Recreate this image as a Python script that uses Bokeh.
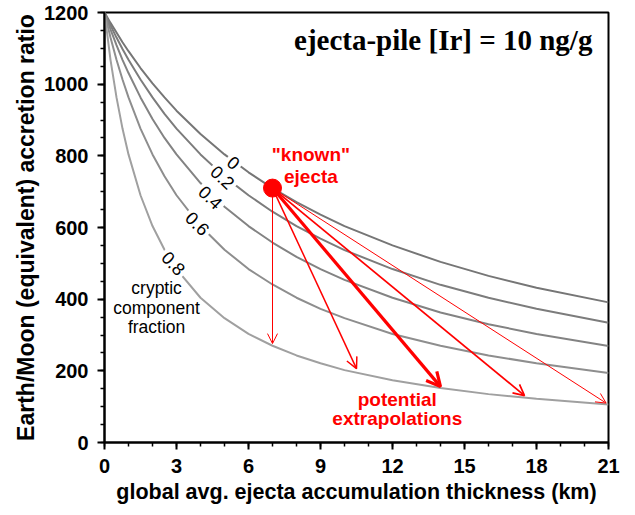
from bokeh.plotting import figure
from bokeh.models import Range1d, SingleIntervalTicker, Arrow, OpenHead
from bokeh.core.properties import value
from bokeh.embed import file_html
from bokeh.resources import INLINE

# ---- data ----
x_km = [0, 0.25, 0.5, 0.75, 1, 1.5, 2, 2.5, 3, 4, 5, 6, 7, 8, 9, 10, 12, 14, 16, 18, 21]
ratio_f00 = [1200, 1171, 1144, 1117, 1092, 1045, 1002, 963, 926, 861, 804, 754, 710, 671, 636, 604, 550, 504, 465, 432, 391]
ratio_f02 = [1200, 1164, 1130, 1098, 1068, 1013, 963, 917, 876, 804, 742, 690, 644, 604, 569, 537, 484, 440, 404, 373, 334]
ratio_f04 = [1200, 1153, 1109, 1068, 1031, 963, 903, 850, 804, 724, 658, 604, 558, 518, 484, 454, 404, 363, 330, 303, 269]
ratio_f06 = [1200, 1130, 1068, 1013, 963, 876, 804, 743, 690, 604, 538, 484, 441, 404, 373, 347, 303, 270, 243, 221, 194]
ratio_f08 = [1200, 1068, 963, 876, 804, 690, 604, 538, 484, 404, 347, 303, 270, 243, 221, 202, 174, 152, 135, 122, 106]

fraction_labels = ["0", "0.2", "0.4", "0.6", "0.8"]
fraction_label_x = [5.375, 4.92, 4.42, 3.875, 2.875]
fraction_label_y = [781, 740, 684, 611, 500]
fraction_label_angle = [-40, -43, -44, -45, -46]

known_x = [7.0]
known_y = [710]

extrap_end_x = [7.0, 10.5, 14.0, 17.5, 20.9]
extrap_end_y = [276, 206, 156, 131, 110]

x_ticks_interval = 3
y_ticks_interval = 200

known_text = ['"known"', "ejecta"]
known_text_x = [8.6, 8.6]
known_text_y = [803, 742]

extrap_text = ["potential", "extrapolations"]
extrap_text_x = [12.2, 12.2]
extrap_text_y = [120, 67]

cryptic_text = ["cryptic", "component", "fraction"]
cryptic_text_x = [2.17, 2.17, 2.17]
cryptic_text_y = [430, 374, 321]

title_text = ["ejecta-pile [Ir] = 10 ng/g"]
title_x = [20.33]
title_y = [1122]

# ---- styles ----
curve_colors = ["#767676", "#7c7c7c", "#838383", "#8e8e8e", "#a0a0a0"]
arrow_widths = [1.0, 1.5, 3.2, 1.7, 1.0]
head_sizes = [10, 11, 14, 11, 10]

SANS = value("Liberation Sans")

p = figure(width=627, height=507,
           x_range=Range1d(0, 21), y_range=Range1d(0, 1200),
           output_backend="svg", toolbar_location=None,
           min_border_left=104, min_border_right=19,
           min_border_top=12, min_border_bottom=65)

p.xgrid.visible = False
p.ygrid.visible = False
p.background_fill_color = "white"
p.outline_line_color = "black"
p.outline_line_width = 2

p.xaxis.ticker = SingleIntervalTicker(interval=x_ticks_interval, num_minor_ticks=3)
p.yaxis.ticker = SingleIntervalTicker(interval=y_ticks_interval, num_minor_ticks=4)

for ax in (p.xaxis[0], p.yaxis[0]):
    ax.axis_line_color = "black"
    ax.axis_line_width = 2
    ax.major_tick_line_color = "black"
    ax.major_tick_line_width = 2
    ax.minor_tick_line_color = "black"
    ax.minor_tick_line_width = 1.5
    ax.major_tick_in = 0
    ax.major_tick_out = 7
    ax.minor_tick_in = 0
    ax.minor_tick_out = 4
    ax.major_label_text_font = "Liberation Sans"
    ax.major_label_text_font_style = "bold"
    ax.major_label_text_font_size = "20px"
    ax.major_label_text_color = "black"
    ax.axis_label_text_font = "Liberation Sans"
    ax.axis_label_text_font_style = "bold"
    ax.axis_label_text_color = "black"

p.xaxis.axis_label = "global avg. ejecta accumulation thickness (km)"
p.yaxis.axis_label = "Earth/Moon (equivalent) accretion ratio"
p.xaxis.axis_label_text_font_size = "21.5px"
p.yaxis.axis_label_text_font_size = "23px"
p.xaxis.major_label_standoff = 9
p.xaxis.axis_label_standoff = 4
p.yaxis.major_label_standoff = 9
p.yaxis.axis_label_standoff = 2

series = [ratio_f00, ratio_f02, ratio_f04, ratio_f06, ratio_f08]
for ys, c in zip(series, curve_colors):
    p.line(x_km, ys, line_color=c, line_width=2)

# curve labels with white background gaps
p.text(x=fraction_label_x, y=fraction_label_y, text=fraction_labels,
       angle=fraction_label_angle, angle_units="deg",
       text_font=SANS, text_font_size="18px", text_color="black",
       text_align="center", text_baseline="middle",
       background_fill_color="white", padding=3)

# arrows
for ex, ey, w, hs in zip(extrap_end_x, extrap_end_y, arrow_widths, head_sizes):
    p.add_layout(Arrow(x_start=known_x[0], y_start=known_y[0], x_end=ex, y_end=ey,
                       line_color="red", line_width=w,
                       end=OpenHead(size=hs, line_color="red", line_width=w)))

p.scatter(known_x, known_y, size=18, fill_color="red", line_color="red")

p.text(x=known_text_x, y=known_text_y, text=known_text, text_color="red",
       text_font=SANS, text_font_style="bold", text_font_size="19px",
       text_align="center", text_baseline="middle")
p.text(x=extrap_text_x, y=extrap_text_y, text=extrap_text, text_color="red",
       text_font=SANS, text_font_style="bold", text_font_size="19px",
       text_align="center", text_baseline="middle")
p.text(x=cryptic_text_x, y=cryptic_text_y, text=cryptic_text, text_color="black",
       text_font=SANS, text_font_size="17.5px",
       text_align="center", text_baseline="middle")
p.text(x=title_x, y=title_y, text=title_text, text_color="black",
       text_font=value("Liberation Serif"), text_font_style="bold", text_font_size="29px",
       text_align="right", text_baseline="middle")

open("out.html", "w").write(file_html(p, INLINE))
